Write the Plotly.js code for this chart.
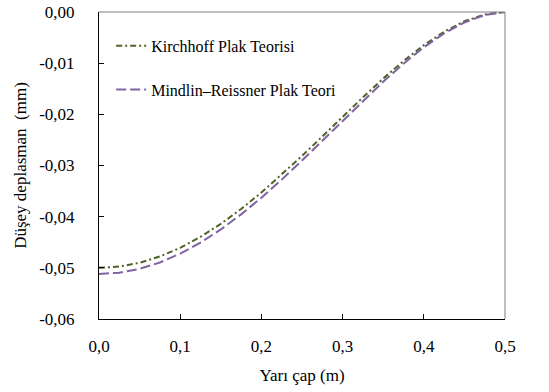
<!DOCTYPE html>
<html>
<head>
<meta charset="utf-8">
<script src="https://cdn.plot.ly/plotly-3.0.1.min.js"></script>
<style>html,body{margin:0;padding:0;background:#fff;}#chart{width:549px;height:392px;}</style>
</head>
<body>
<div id="chart"></div>
<script>
// Radius (m)
const radius = [0, 0.025, 0.05, 0.075, 0.1, 0.125, 0.15, 0.175, 0.2, 0.225, 0.25, 0.275, 0.3, 0.325, 0.35, 0.375, 0.4, 0.425, 0.45, 0.475, 0.5];
// Vertical deflection (mm)
const kirchhoff = [-0.0500, -0.04975, -0.04901, -0.04778, -0.04608, -0.04395, -0.04141, -0.03850, -0.03528, -0.03180, -0.02813, -0.02433, -0.02048, -0.01668, -0.01301, -0.00957, -0.00648, -0.00385, -0.00181, -0.00048, 0];
const mindlin = [-0.0512, -0.05095, -0.05020, -0.04895, -0.04723, -0.04508, -0.04250, -0.03955, -0.03629, -0.03276, -0.02903, -0.02517, -0.02125, -0.01737, -0.01362, -0.01010, -0.00691, -0.00418, -0.00204, -0.00060, 0];
const seriesNames = ["Kirchhoff Plak Teorisi", "Mindlin\u2013Reissner Plak Teori"];
const xTickVals = [0, 0.1, 0.2, 0.3, 0.4, 0.5];
const xTickText = ["0,0", "0,1", "0,2", "0,3", "0,4", "0,5"];
const yTickVals = [0, -0.01, -0.02, -0.03, -0.04, -0.05, -0.06];
const yTickText = ["0,00", "-0,01", "-0,02", "-0,03", "-0,04", "-0,05", "-0,06"];

const FONT = "Liberation Serif";

const traces = [
  {x: radius, y: kirchhoff, name: seriesNames[0], type: "scatter", mode: "lines",
   legendgroup: "a",
   line: {color: "#4F6228", width: 2, dash: "6px,3px,2px,3px"}},
  {x: radius, y: mindlin, name: seriesNames[1], type: "scatter", mode: "lines",
   legendgroup: "b",
   line: {color: "#8064A2", width: 2, dash: "10px,4px"}}
];

const layout = {
  width: 549, height: 392,
  margin: {l: 99, r: 44, t: 12, b: 73},
  paper_bgcolor: "#fff", plot_bgcolor: "#fff",
  font: {family: FONT, size: 17, color: "#000"},
  showlegend: true,
  legend: {x: 0.03, y: 0.945, xanchor: "left", yanchor: "top", bgcolor: "rgba(0,0,0,0)",
           font: {family: FONT, size: 16, color: "#000"}, itemwidth: 30, tracegroupgap: 20},
  xaxis: {range: [0, 0.5], tickvals: xTickVals, ticktext: xTickText,
          showgrid: false, zeroline: false, showline: true, linecolor: "#000", linewidth: 1,
          ticks: "inside", ticklen: 5, tickcolor: "#000", ticklabelstandoff: 12,
          tickfont: {family: FONT, size: 17},
          title: {text: "Yarı çap (m)", font: {family: FONT, size: 17}, standoff: 13}},
  yaxis: {range: [-0.06, 0], tickvals: yTickVals, ticktext: yTickText,
          showgrid: false, zeroline: false, showline: true, linecolor: "#000", linewidth: 1,
          ticks: "inside", ticklen: 5, tickcolor: "#000", ticklabelstandoff: 20,
          tickfont: {family: FONT, size: 17},
          title: {text: "Düşey deplasman  (mm)", font: {family: FONT, size: 17}, standoff: 8}},
  shapes: [
    {type: "line", xref: "paper", yref: "paper", x0: 0, x1: 1, y0: 1, y1: 1, line: {color: "#7F7F7F", width: 1}},
    {type: "line", xref: "paper", yref: "paper", x0: 1, x1: 1, y0: 0, y1: 1, line: {color: "#7F7F7F", width: 1}}
  ]
};

Plotly.newPlot("chart", traces, layout, {displayModeBar: false, staticPlot: true});
</script>
</body>
</html>
